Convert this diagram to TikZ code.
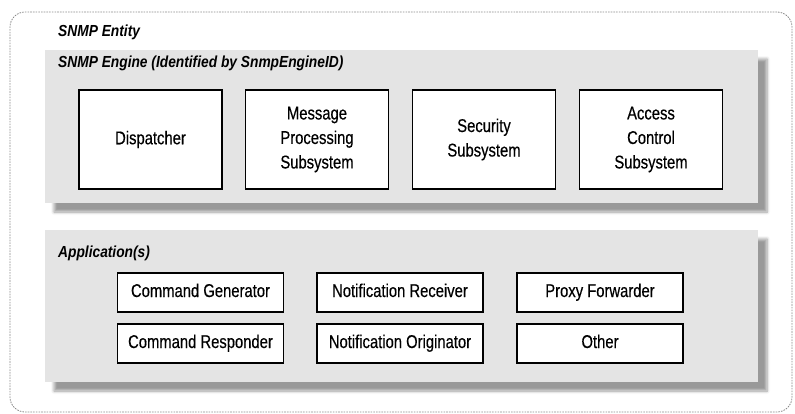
\documentclass[tikz,border=0pt]{standalone}
\usepackage{fontspec}
\setmainfont{Liberation Sans}[FakeStretch=0.86]
\newfontfamily\boxfont{Liberation Sans}[FakeStretch=0.8, FakeBold=0.35]
\usetikzlibrary{shadows.blur}
\definecolor{panelgray}{HTML}{E4E4E4}
\definecolor{framegray}{HTML}{8A8A8A}
\begin{document}
\begin{tikzpicture}[x=1pt,y=-1pt,
  frame/.style={draw=framegray, line width=0.8pt, dash pattern=on 1.6pt off 1.1pt, rounded corners=15pt},
  panel/.style={fill=panelgray, draw=none, inner sep=0pt,
    blur shadow={shadow xshift=9pt, shadow yshift=-9pt, shadow blur steps=6, shadow opacity=40, shadow blur radius=3pt}},
  heading/.style={anchor=west, inner sep=0pt, font=\fontsize{16}{18}\selectfont\bfseries\itshape},
  enginebox/.style={draw, fill=white, line width=1.8pt, minimum width=143, minimum height=99,
    align=center, inner sep=2pt, font=\boxfont\fontsize{18.5}{24.5}\selectfont},
  appbox/.style={draw, fill=white, line width=1.8pt, minimum width=166, minimum height=39,
    inner sep=2pt, text height=13pt, text depth=4pt, font=\boxfont\fontsize{18.5}{20}\selectfont}]
\useasboundingbox (0,0) rectangle (795,414);

% SNMP entity frame
\node[frame, minimum width=782, minimum height=400, inner sep=0pt] (entity) at (401,212) {};
\node[heading] (entitylbl) at (58,32) {SNMP Entity};

% SNMP engine panel and its subsystems
\node[panel, minimum width=713, minimum height=153] (engine) at (401.5,126.5) {};
\node[heading] (enginelbl) at (58,63) {SNMP Engine (Identified by SnmpEngineID)};
\node[enginebox] (disp) at (150.5,139.5) {Dispatcher};
\node[enginebox] (mps) at (317,139.5) {Message\\Processing\\Subsystem};
\node[enginebox] (sec) at (484,139.5) {Security\\Subsystem};
\node[enginebox] (acs) at (651,139.5) {Access\\Control\\Subsystem};

% Applications panel
\node[panel, minimum width=713, minimum height=152] (apps) at (401.5,306) {};
\node[heading] (appslbl) at (58,253) {Application(s)};
\node[appbox] (cg) at (200.5,292.5) {Command Generator};
\node[appbox] (cr) at (200.5,343.5) {Command Responder};
\node[appbox] (nr) at (400,292.5) {Notification Receiver};
\node[appbox] (no) at (400,343.5) {Notification Originator};
\node[appbox] (pf) at (600,292.5) {Proxy Forwarder};
\node[appbox] (ot) at (600,343.5) {Other};
\end{tikzpicture}
\end{document}
